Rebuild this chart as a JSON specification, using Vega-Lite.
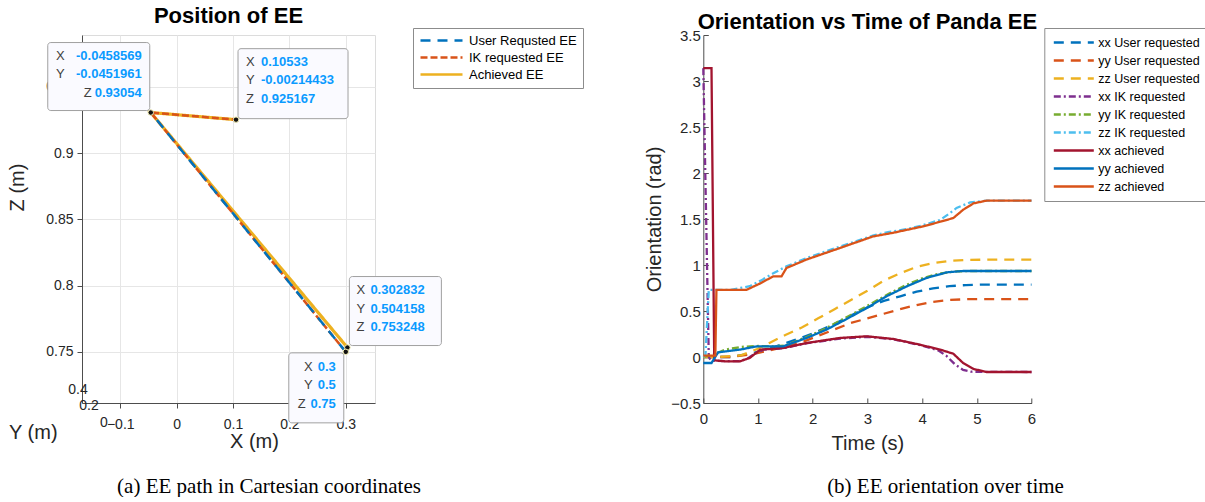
{
 "$schema": "https://vega.github.io/schema/vega-lite/v6.json",
 "padding": {"left": 7, "top": 4, "right": 0, "bottom": 0},
 "background": "white",
 "bounds": "flush",
 "spacing": 328.3,
 "resolve": {"scale": {"color": "independent", "strokeDash": "independent"}, "legend": {"color": "independent", "strokeDash": "independent"}},
 "config": {
  "font": "Liberation Sans",
  "view": {"stroke": null},
  "axis": {"labelFont": "Liberation Sans", "titleFont": "Liberation Sans", "labelColor": "#262626", "titleColor": "#262626", "titleFontWeight": "normal", "domainColor": "#4d4d4d", "tickColor": "#4d4d4d", "labelFlush": false, "labelOverlap": false},
  "legend": {"symbolType": "stroke", "labelFont": "Liberation Sans", "labelFontSize": 13, "labelColor": "#000000", "strokeColor": "#8c8c8c", "fillColor": "#ffffff", "labelLimit": 0},
  "title": {"font": "Liberation Sans", "fontSize": 22, "fontWeight": "bold", "color": "#000000", "anchor": "middle", "baseline": "alphabetic"}
 },
 "datasets": {
  "path": [
   {"s": "Achieved EE", "i": 0, "X": 0.302832, "Y": 0.504158, "Z": 0.753248},
   {"s": "Achieved EE", "i": 1, "X": -0.0458569, "Y": -0.0451961, "Z": 0.93054},
   {"s": "Achieved EE", "i": 2, "X": 0.10533, "Y": -0.00214433, "Z": 0.925167},
   {"s": "IK requested EE", "i": 0, "X": 0.3, "Y": 0.5, "Z": 0.75},
   {"s": "IK requested EE", "i": 1, "X": -0.0458569, "Y": -0.0451961, "Z": 0.93054},
   {"s": "IK requested EE", "i": 2, "X": 0.10533, "Y": -0.00214433, "Z": 0.925167},
   {"s": "User Requsted EE", "i": 0, "X": 0.3, "Y": 0.5, "Z": 0.75},
   {"s": "User Requsted EE", "i": 1, "X": -0.0458569, "Y": -0.0451961, "Z": 0.93054}
  ],
  "tips": [
   {"tip": "a", "X": -0.0458569, "Y": -0.0451961, "Z": 0.93054, "labs": "X\nY", "labz": "Z", "vals": "-0.0458569\n-0.0451961\n0.93054"},
   {"tip": "b", "X": 0.10533, "Y": -0.00214433, "Z": 0.925167, "labs": "X\nY\nZ", "labz": "", "vals": "0.10533\n-0.00214433\n0.925167"},
   {"tip": "c", "X": 0.302832, "Y": 0.504158, "Z": 0.753248, "labs": "X\nY\nZ", "labz": "", "vals": "0.302832\n0.504158\n0.753248"},
   {"tip": "d", "X": 0.3, "Y": 0.5, "Z": 0.75, "labs": "X\nY", "labz": "Z", "vals": "0.3\n0.5\n0.75"}
  ],
  "yticks": [
   {"lab": "0.4", "X": -0.1749, "Z": 0.72144},
   {"lab": "0.2", "X": -0.1554, "Z": 0.70937},
   {"lab": "0", "X": -0.1288, "Z": 0.69655}
  ],
  "ytitle": [
   {"lab": "Y (m)", "X": -0.2542, "Z": 0.689}
  ],
  "ori": [
   {"s": "xx User requested", "t": 0, "v": 0}, {"s": "xx User requested", "t": 0.5, "v": 0}, {"s": "xx User requested", "t": 0.9, "v": 0.04}, {"s": "xx User requested", "t": 1.2, "v": 0.09}, {"s": "xx User requested", "t": 1.5, "v": 0.15}, {"s": "xx User requested", "t": 1.8, "v": 0.21}, {"s": "xx User requested", "t": 2.1, "v": 0.28}, {"s": "xx User requested", "t": 2.4, "v": 0.36}, {"s": "xx User requested", "t": 2.7, "v": 0.45}, {"s": "xx User requested", "t": 3.0, "v": 0.54}, {"s": "xx User requested", "t": 3.3, "v": 0.61}, {"s": "xx User requested", "t": 3.6, "v": 0.66}, {"s": "xx User requested", "t": 3.9, "v": 0.71}, {"s": "xx User requested", "t": 4.2, "v": 0.745}, {"s": "xx User requested", "t": 4.5, "v": 0.77}, {"s": "xx User requested", "t": 4.8, "v": 0.782}, {"s": "xx User requested", "t": 5.1, "v": 0.787}, {"s": "xx User requested", "t": 6, "v": 0.787},
   {"s": "yy User requested", "t": 0, "v": 0}, {"s": "yy User requested", "t": 0.5, "v": 0}, {"s": "yy User requested", "t": 0.9, "v": 0.03}, {"s": "yy User requested", "t": 1.2, "v": 0.07}, {"s": "yy User requested", "t": 1.5, "v": 0.11}, {"s": "yy User requested", "t": 1.8, "v": 0.16}, {"s": "yy User requested", "t": 2.1, "v": 0.23}, {"s": "yy User requested", "t": 2.4, "v": 0.3}, {"s": "yy User requested", "t": 2.7, "v": 0.37}, {"s": "yy User requested", "t": 3.0, "v": 0.42}, {"s": "yy User requested", "t": 3.3, "v": 0.47}, {"s": "yy User requested", "t": 3.6, "v": 0.52}, {"s": "yy User requested", "t": 3.9, "v": 0.565}, {"s": "yy User requested", "t": 4.2, "v": 0.6}, {"s": "yy User requested", "t": 4.5, "v": 0.62}, {"s": "yy User requested", "t": 4.8, "v": 0.628}, {"s": "yy User requested", "t": 5.1, "v": 0.63}, {"s": "yy User requested", "t": 6, "v": 0.63},
   {"s": "zz User requested", "t": 0, "v": 0}, {"s": "zz User requested", "t": 0.3, "v": 0}, {"s": "zz User requested", "t": 0.7, "v": 0.02}, {"s": "zz User requested", "t": 1.0, "v": 0.09}, {"s": "zz User requested", "t": 1.2, "v": 0.15}, {"s": "zz User requested", "t": 1.5, "v": 0.24}, {"s": "zz User requested", "t": 1.8, "v": 0.32}, {"s": "zz User requested", "t": 2.1, "v": 0.42}, {"s": "zz User requested", "t": 2.4, "v": 0.52}, {"s": "zz User requested", "t": 2.7, "v": 0.62}, {"s": "zz User requested", "t": 3.0, "v": 0.72}, {"s": "zz User requested", "t": 3.3, "v": 0.83}, {"s": "zz User requested", "t": 3.6, "v": 0.91}, {"s": "zz User requested", "t": 3.9, "v": 0.98}, {"s": "zz User requested", "t": 4.2, "v": 1.02}, {"s": "zz User requested", "t": 4.5, "v": 1.045}, {"s": "zz User requested", "t": 4.8, "v": 1.055}, {"s": "zz User requested", "t": 5.2, "v": 1.058}, {"s": "zz User requested", "t": 6, "v": 1.058},
   {"s": "xx IK requested", "t": 0, "v": 3.14}, {"s": "xx IK requested", "t": 0.1, "v": 0}, {"s": "xx IK requested", "t": 0.14, "v": -0.04}, {"s": "xx IK requested", "t": 0.4, "v": -0.045}, {"s": "xx IK requested", "t": 0.65, "v": -0.045}, {"s": "xx IK requested", "t": 0.8, "v": -0.02}, {"s": "xx IK requested", "t": 0.95, "v": 0.04}, {"s": "xx IK requested", "t": 1.1, "v": 0.08}, {"s": "xx IK requested", "t": 1.45, "v": 0.095}, {"s": "xx IK requested", "t": 1.9, "v": 0.15}, {"s": "xx IK requested", "t": 2.5, "v": 0.2}, {"s": "xx IK requested", "t": 3.0, "v": 0.22}, {"s": "xx IK requested", "t": 3.5, "v": 0.19}, {"s": "xx IK requested", "t": 4.0, "v": 0.125}, {"s": "xx IK requested", "t": 4.3, "v": 0.07}, {"s": "xx IK requested", "t": 4.45, "v": 0.01}, {"s": "xx IK requested", "t": 4.6, "v": -0.08}, {"s": "xx IK requested", "t": 4.75, "v": -0.14}, {"s": "xx IK requested", "t": 4.9, "v": -0.16}, {"s": "xx IK requested", "t": 6, "v": -0.163},
   {"s": "yy IK requested", "t": 0, "v": 0}, {"s": "yy IK requested", "t": 0.2, "v": 0.03}, {"s": "yy IK requested", "t": 0.4, "v": 0.08}, {"s": "yy IK requested", "t": 0.7, "v": 0.11}, {"s": "yy IK requested", "t": 1.0, "v": 0.12}, {"s": "yy IK requested", "t": 1.3, "v": 0.115}, {"s": "yy IK requested", "t": 1.5, "v": 0.125}, {"s": "yy IK requested", "t": 1.9, "v": 0.22}, {"s": "yy IK requested", "t": 2.2, "v": 0.3}, {"s": "yy IK requested", "t": 2.5, "v": 0.395}, {"s": "yy IK requested", "t": 2.8, "v": 0.49}, {"s": "yy IK requested", "t": 3.1, "v": 0.59}, {"s": "yy IK requested", "t": 3.4, "v": 0.69}, {"s": "yy IK requested", "t": 3.7, "v": 0.78}, {"s": "yy IK requested", "t": 4.0, "v": 0.855}, {"s": "yy IK requested", "t": 4.3, "v": 0.905}, {"s": "yy IK requested", "t": 4.6, "v": 0.93}, {"s": "yy IK requested", "t": 4.9, "v": 0.935}, {"s": "yy IK requested", "t": 6, "v": 0.935},
   {"s": "zz IK requested", "t": 0, "v": 0}, {"s": "zz IK requested", "t": 0.04, "v": 0.02}, {"s": "zz IK requested", "t": 0.1, "v": 0.73}, {"s": "zz IK requested", "t": 0.5, "v": 0.73}, {"s": "zz IK requested", "t": 0.85, "v": 0.77}, {"s": "zz IK requested", "t": 1.05, "v": 0.83}, {"s": "zz IK requested", "t": 1.28, "v": 0.91}, {"s": "zz IK requested", "t": 1.52, "v": 0.985}, {"s": "zz IK requested", "t": 1.89, "v": 1.076}, {"s": "zz IK requested", "t": 2.2, "v": 1.14}, {"s": "zz IK requested", "t": 2.5, "v": 1.2}, {"s": "zz IK requested", "t": 2.8, "v": 1.26}, {"s": "zz IK requested", "t": 3.1, "v": 1.32}, {"s": "zz IK requested", "t": 3.4, "v": 1.36}, {"s": "zz IK requested", "t": 3.72, "v": 1.39}, {"s": "zz IK requested", "t": 4.0, "v": 1.43}, {"s": "zz IK requested", "t": 4.33, "v": 1.49}, {"s": "zz IK requested", "t": 4.5, "v": 1.56}, {"s": "zz IK requested", "t": 4.63, "v": 1.62}, {"s": "zz IK requested", "t": 4.88, "v": 1.68}, {"s": "zz IK requested", "t": 5.18, "v": 1.7}, {"s": "zz IK requested", "t": 6, "v": 1.7},
   {"s": "xx achieved", "t": 0, "v": 3.14}, {"s": "xx achieved", "t": 0.15, "v": 3.14}, {"s": "xx achieved", "t": 0.2, "v": -0.036}, {"s": "xx achieved", "t": 0.4, "v": -0.047}, {"s": "xx achieved", "t": 0.67, "v": -0.047}, {"s": "xx achieved", "t": 0.85, "v": -0.01}, {"s": "xx achieved", "t": 1.04, "v": 0.08}, {"s": "xx achieved", "t": 1.46, "v": 0.098}, {"s": "xx achieved", "t": 1.89, "v": 0.152}, {"s": "xx achieved", "t": 2.2, "v": 0.18}, {"s": "xx achieved", "t": 2.5, "v": 0.207}, {"s": "xx achieved", "t": 2.99, "v": 0.225}, {"s": "xx achieved", "t": 3.47, "v": 0.196}, {"s": "xx achieved", "t": 3.96, "v": 0.134}, {"s": "xx achieved", "t": 4.33, "v": 0.08}, {"s": "xx achieved", "t": 4.57, "v": 0.036}, {"s": "xx achieved", "t": 4.75, "v": -0.065}, {"s": "xx achieved", "t": 4.94, "v": -0.13}, {"s": "xx achieved", "t": 5.18, "v": -0.163}, {"s": "xx achieved", "t": 6, "v": -0.163},
   {"s": "yy achieved", "t": 0, "v": -0.065}, {"s": "yy achieved", "t": 0.15, "v": -0.065}, {"s": "yy achieved", "t": 0.27, "v": 0.05}, {"s": "yy achieved", "t": 0.67, "v": 0.08}, {"s": "yy achieved", "t": 0.98, "v": 0.116}, {"s": "yy achieved", "t": 1.46, "v": 0.116}, {"s": "yy achieved", "t": 1.89, "v": 0.207}, {"s": "yy achieved", "t": 2.25, "v": 0.297}, {"s": "yy achieved", "t": 2.62, "v": 0.413}, {"s": "yy achieved", "t": 2.99, "v": 0.533}, {"s": "yy achieved", "t": 3.35, "v": 0.66}, {"s": "yy achieved", "t": 3.72, "v": 0.768}, {"s": "yy achieved", "t": 4.08, "v": 0.859}, {"s": "yy achieved", "t": 4.45, "v": 0.92}, {"s": "yy achieved", "t": 4.75, "v": 0.935}, {"s": "yy achieved", "t": 6, "v": 0.935},
   {"s": "zz achieved", "t": 0, "v": 0.015}, {"s": "zz achieved", "t": 0.22, "v": 0.015}, {"s": "zz achieved", "t": 0.24, "v": 0.73}, {"s": "zz achieved", "t": 0.79, "v": 0.73}, {"s": "zz achieved", "t": 1.04, "v": 0.8}, {"s": "zz achieved", "t": 1.28, "v": 0.877}, {"s": "zz achieved", "t": 1.43, "v": 0.877}, {"s": "zz achieved", "t": 1.52, "v": 0.967}, {"s": "zz achieved", "t": 1.89, "v": 1.06}, {"s": "zz achieved", "t": 2.5, "v": 1.185}, {"s": "zz achieved", "t": 3.1, "v": 1.31}, {"s": "zz achieved", "t": 3.47, "v": 1.35}, {"s": "zz achieved", "t": 4.02, "v": 1.42}, {"s": "zz achieved", "t": 4.33, "v": 1.47}, {"s": "zz achieved", "t": 4.57, "v": 1.51}, {"s": "zz achieved", "t": 4.75, "v": 1.6}, {"s": "zz achieved", "t": 4.94, "v": 1.67}, {"s": "zz achieved", "t": 5.18, "v": 1.7}, {"s": "zz achieved", "t": 6, "v": 1.7}
  ]
 },
 "hconcat": [
  {
   "width": 293,
   "height": 368,
   "view": {"stroke": "#dcdcdc"},
   "title": {"text": "Position of EE", "offset": -0.7},
   "resolve": {"axis": {"x": "independent"}},
   "layer": [
    {
     "layer": [
      {
       "data": {"name": "path"},
       "transform": [{"filter": "datum.s === 'Achieved EE'"}],
       "mark": {"type": "line", "strokeWidth": 3.2},
       "encoding": {
        "x": {"field": "X", "type": "quantitative", "scale": {"domain": [-0.1678, 0.3518], "nice": false, "zero": false}, "axis": {"values": [-0.1, 0, 0.1, 0.2, 0.3], "format": "~g", "title": "X (m)", "titleFontSize": 20, "titleX": 172, "titlePadding": 0, "labelFontSize": 14, "tickSize": 5, "labelPadding": 9, "grid": true, "gridColor": "#e6e6e6"}},
        "y": {"field": "Z", "type": "quantitative", "scale": {"domain": [0.71141, 0.98904], "nice": false, "zero": false}, "axis": {"values": [0.75, 0.8, 0.85, 0.9, 0.95], "format": "~g", "title": "Z (m)", "titleFontSize": 20, "titleY": 152, "titlePadding": 18, "labelFontSize": 14, "tickSize": 5, "labelPadding": 4, "grid": true, "gridColor": "#e6e6e6"}},
        "color": {"field": "s", "type": "nominal", "scale": {"domain": ["User Requsted EE", "IK requested EE", "Achieved EE"], "range": ["#0072BD", "#D95319", "#EDB120"]}, "legend": {"orient": "none", "legendX": 331, "legendY": -7, "title": null, "symbolSize": 1764, "symbolStrokeWidth": 2.5, "padding": 6, "rowPadding": 3, "labelOffset": 5, "clipHeight": 13}},
        "strokeDash": {"field": "s", "type": "nominal", "scale": {"domain": ["User Requsted EE", "IK requested EE", "Achieved EE"], "range": [[10, 7], [7, 3], [1, 0]]}, "legend": {"orient": "none", "legendX": 331, "legendY": -7, "title": null, "symbolSize": 1764, "symbolStrokeWidth": 2.5, "padding": 6, "rowPadding": 3, "labelOffset": 5, "clipHeight": 13}},
        "order": {"field": "i", "type": "quantitative"}
       }
      },
      {
       "data": {"name": "path"},
       "transform": [{"filter": "datum.s === 'IK requested EE'"}],
       "mark": {"type": "line", "strokeWidth": 2.5},
       "encoding": {
        "x": {"field": "X", "type": "quantitative"},
        "y": {"field": "Z", "type": "quantitative"},
        "color": {"field": "s", "type": "nominal"},
        "strokeDash": {"field": "s", "type": "nominal"},
        "order": {"field": "i", "type": "quantitative"}
       }
      },
      {
       "data": {"name": "path"},
       "transform": [{"filter": "datum.s === 'User Requsted EE'"}],
       "mark": {"type": "line", "strokeWidth": 2.5},
       "encoding": {
        "x": {"field": "X", "type": "quantitative"},
        "y": {"field": "Z", "type": "quantitative"},
        "color": {"field": "s", "type": "nominal"},
        "strokeDash": {"field": "s", "type": "nominal"},
        "order": {"field": "i", "type": "quantitative"}
       }
      },
      {
       "data": {"name": "tips"},
       "mark": {"type": "point", "filled": true, "size": 30, "fill": "#111111", "stroke": "#f3efb5", "strokeWidth": 1, "opacity": 1},
       "encoding": {"x": {"field": "X", "type": "quantitative"}, "y": {"field": "Z", "type": "quantitative"}}
      },
      {
       "data": {"name": "tips"},
       "transform": [{"filter": "datum.tip === 'a'"}],
       "mark": {"type": "rect", "xOffset": -103, "x2Offset": -1, "yOffset": -70, "y2Offset": -2, "fill": "#fafaff", "stroke": "#a0a0a0", "strokeWidth": 1, "cornerRadius": 3},
       "encoding": {"x": {"field": "X", "type": "quantitative"}, "x2": {"field": "X"}, "y": {"field": "Z", "type": "quantitative"}, "y2": {"field": "Z"}}
      },
      {
       "data": {"name": "tips"},
       "transform": [{"filter": "datum.tip === 'a'"}],
       "mark": {"type": "text", "align": "right", "baseline": "middle", "dx": -86, "dy": -57, "fontSize": 13, "lineHeight": 18.5, "lineBreak": "\n", "color": "#404040"},
       "encoding": {"x": {"field": "X", "type": "quantitative"}, "y": {"field": "Z", "type": "quantitative"}, "text": {"field": "labs", "type": "nominal"}}
      },
      {
       "data": {"name": "tips"},
       "transform": [{"filter": "datum.tip === 'a'"}],
       "mark": {"type": "text", "align": "right", "baseline": "middle", "dx": -59, "dy": -20, "fontSize": 13, "color": "#404040"},
       "encoding": {"x": {"field": "X", "type": "quantitative"}, "y": {"field": "Z", "type": "quantitative"}, "text": {"field": "labz", "type": "nominal"}}
      },
      {
       "data": {"name": "tips"},
       "transform": [{"filter": "datum.tip === 'a'"}],
       "mark": {"type": "text", "align": "right", "baseline": "middle", "dx": -9, "dy": -57, "fontSize": 13, "fontWeight": "bold", "lineHeight": 18.5, "lineBreak": "\n", "color": "#0a9aff"},
       "encoding": {"x": {"field": "X", "type": "quantitative"}, "y": {"field": "Z", "type": "quantitative"}, "text": {"field": "vals", "type": "nominal"}}
      },
      {
       "data": {"name": "tips"},
       "transform": [{"filter": "datum.tip === 'b'"}],
       "mark": {"type": "rect", "xOffset": 2, "x2Offset": 112, "yOffset": -71, "y2Offset": -1, "fill": "#fafaff", "stroke": "#a0a0a0", "strokeWidth": 1, "cornerRadius": 3},
       "encoding": {"x": {"field": "X", "type": "quantitative"}, "x2": {"field": "X"}, "y": {"field": "Z", "type": "quantitative"}, "y2": {"field": "Z"}}
      },
      {
       "data": {"name": "tips"},
       "transform": [{"filter": "datum.tip === 'b'"}],
       "mark": {"type": "text", "align": "left", "baseline": "middle", "dx": 10, "dy": -58, "fontSize": 13, "lineHeight": 18.5, "lineBreak": "\n", "color": "#404040"},
       "encoding": {"x": {"field": "X", "type": "quantitative"}, "y": {"field": "Z", "type": "quantitative"}, "text": {"field": "labs", "type": "nominal"}}
      },
      {
       "data": {"name": "tips"},
       "transform": [{"filter": "datum.tip === 'b'"}],
       "mark": {"type": "text", "align": "left", "baseline": "middle", "dx": 25, "dy": -58, "fontSize": 13, "fontWeight": "bold", "lineHeight": 18.5, "lineBreak": "\n", "color": "#0a9aff"},
       "encoding": {"x": {"field": "X", "type": "quantitative"}, "y": {"field": "Z", "type": "quantitative"}, "text": {"field": "vals", "type": "nominal"}}
      },
      {
       "data": {"name": "tips"},
       "transform": [{"filter": "datum.tip === 'c'"}],
       "mark": {"type": "rect", "xOffset": 2, "x2Offset": 94, "yOffset": -71, "y2Offset": -2, "fill": "#fafaff", "stroke": "#a0a0a0", "strokeWidth": 1, "cornerRadius": 3},
       "encoding": {"x": {"field": "X", "type": "quantitative"}, "x2": {"field": "X"}, "y": {"field": "Z", "type": "quantitative"}, "y2": {"field": "Z"}}
      },
      {
       "data": {"name": "tips"},
       "transform": [{"filter": "datum.tip === 'c'"}],
       "mark": {"type": "text", "align": "left", "baseline": "middle", "dx": 9, "dy": -57.5, "fontSize": 13, "lineHeight": 18.5, "lineBreak": "\n", "color": "#404040"},
       "encoding": {"x": {"field": "X", "type": "quantitative"}, "y": {"field": "Z", "type": "quantitative"}, "text": {"field": "labs", "type": "nominal"}}
      },
      {
       "data": {"name": "tips"},
       "transform": [{"filter": "datum.tip === 'c'"}],
       "mark": {"type": "text", "align": "left", "baseline": "middle", "dx": 23, "dy": -57.5, "fontSize": 13, "fontWeight": "bold", "lineHeight": 18.5, "lineBreak": "\n", "color": "#0a9aff"},
       "encoding": {"x": {"field": "X", "type": "quantitative"}, "y": {"field": "Z", "type": "quantitative"}, "text": {"field": "vals", "type": "nominal"}}
      },
      {
       "data": {"name": "tips"},
       "transform": [{"filter": "datum.tip === 'd'"}],
       "mark": {"type": "rect", "xOffset": -57, "x2Offset": -2, "yOffset": 1, "y2Offset": 71, "fill": "#fafaff", "stroke": "#a0a0a0", "strokeWidth": 1, "cornerRadius": 3},
       "encoding": {"x": {"field": "X", "type": "quantitative"}, "x2": {"field": "X"}, "y": {"field": "Z", "type": "quantitative"}, "y2": {"field": "Z"}}
      },
      {
       "data": {"name": "tips"},
       "transform": [{"filter": "datum.tip === 'd'"}],
       "mark": {"type": "text", "align": "right", "baseline": "middle", "dx": -33, "dy": 15, "fontSize": 13, "lineHeight": 18.5, "lineBreak": "\n", "color": "#404040"},
       "encoding": {"x": {"field": "X", "type": "quantitative"}, "y": {"field": "Z", "type": "quantitative"}, "text": {"field": "labs", "type": "nominal"}}
      },
      {
       "data": {"name": "tips"},
       "transform": [{"filter": "datum.tip === 'd'"}],
       "mark": {"type": "text", "align": "right", "baseline": "middle", "dx": -40, "dy": 52, "fontSize": 13, "color": "#404040"},
       "encoding": {"x": {"field": "X", "type": "quantitative"}, "y": {"field": "Z", "type": "quantitative"}, "text": {"field": "labz", "type": "nominal"}}
      },
      {
       "data": {"name": "tips"},
       "transform": [{"filter": "datum.tip === 'd'"}],
       "mark": {"type": "text", "align": "right", "baseline": "middle", "dx": -10, "dy": 15, "fontSize": 13, "fontWeight": "bold", "lineHeight": 18.5, "lineBreak": "\n", "color": "#0a9aff"},
       "encoding": {"x": {"field": "X", "type": "quantitative"}, "y": {"field": "Z", "type": "quantitative"}, "text": {"field": "vals", "type": "nominal"}}
      },
      {
       "data": {"name": "yticks"},
       "mark": {"type": "text", "fontSize": 14, "color": "#262626"},
       "encoding": {"x": {"field": "X", "type": "quantitative"}, "y": {"field": "Z", "type": "quantitative"}, "text": {"field": "lab", "type": "nominal"}}
      },
      {
       "data": {"name": "ytitle"},
       "mark": {"type": "text", "fontSize": 20, "color": "#262626"},
       "encoding": {"x": {"field": "X", "type": "quantitative"}, "y": {"field": "Z", "type": "quantitative"}, "text": {"field": "lab", "type": "nominal"}}
      }
     ]
    },
    {
     "data": {"name": "ytitle"},
     "mark": {"type": "text", "opacity": 0},
     "encoding": {
      "x": {"field": "X", "type": "quantitative", "axis": {"orient": "bottom", "offset": 71, "title": "(a) EE path in Cartesian coordinates", "titleFont": "Liberation Serif", "titleFontSize": 21, "titleColor": "#000000", "titleFontWeight": "normal", "titleX": 186.5, "titlePadding": 1, "labels": false, "ticks": false, "domain": false, "grid": false}},
      "text": {"field": "lab", "type": "nominal"}
     }
    }
   ]
  },
  {
   "width": 328.2,
   "height": 368,
   "title": {"text": "Orientation vs Time of Panda EE", "offset": -6.7},
   "resolve": {"axis": {"x": "independent"}},
   "layer": [
    {
     "data": {"name": "ori"},
     "mark": {"type": "line", "strokeWidth": 2.3},
     "encoding": {
      "x": {"field": "t", "type": "quantitative", "scale": {"domain": [0, 6], "nice": false}, "axis": {"values": [0, 1, 2, 3, 4, 5, 6], "format": "~g", "title": "Time (s)", "titleFontSize": 20, "titlePadding": 7, "labelFontSize": 15, "tickSize": -5, "labelPadding": 13, "grid": false}},
      "y": {"field": "v", "type": "quantitative", "scale": {"domain": [-0.5, 3.5], "nice": false, "zero": false}, "axis": {"values": [-0.5, 0, 0.5, 1, 1.5, 2, 2.5, 3, 3.5], "format": "~g", "title": "Orientation (rad)", "titleFontSize": 20, "titlePadding": 6, "labelFontSize": 15, "tickSize": -5, "labelPadding": 8, "grid": false}},
      "color": {"field": "s", "type": "nominal", "scale": {"domain": ["xx User requested", "yy User requested", "zz User requested", "xx IK requested", "yy IK requested", "zz IK requested", "xx achieved", "yy achieved", "zz achieved"], "range": ["#0072BD", "#D95319", "#EDB120", "#7E2F8E", "#77AC30", "#4DBEEE", "#A2142F", "#0072BD", "#D95319"]}, "legend": {"orient": "none", "legendX": 341, "legendY": -7, "title": null, "symbolSize": 1600, "symbolStrokeWidth": 2.3, "padding": 8, "rowPadding": 5, "labelOffset": 3, "labelFontSize": 12.5, "clipHeight": 13}},
      "strokeDash": {"field": "s", "type": "nominal", "scale": {"domain": ["xx User requested", "yy User requested", "zz User requested", "xx IK requested", "yy IK requested", "zz IK requested", "xx achieved", "yy achieved", "zz achieved"], "range": [[10, 7], [10, 7], [10, 7], [7, 3, 2, 3], [7, 3, 2, 3], [7, 3, 2, 3], [1, 0], [1, 0], [1, 0]]}, "legend": {"orient": "none", "legendX": 341, "legendY": -7, "title": null, "symbolSize": 1600, "symbolStrokeWidth": 2.3, "padding": 8, "rowPadding": 5, "labelOffset": 3, "labelFontSize": 12.5, "clipHeight": 13}}
     }
    },
    {
     "data": {"values": [{"t": 3, "note": "caption"}]},
     "mark": {"type": "text", "opacity": 0},
     "encoding": {
      "x": {"field": "t", "type": "quantitative", "axis": {"orient": "bottom", "offset": 71, "title": "(b) EE orientation over time", "titleFont": "Liberation Serif", "titleFontSize": 21, "titleColor": "#000000", "titleFontWeight": "normal", "titleX": 241.7, "titlePadding": 1, "labels": false, "ticks": false, "domain": false, "grid": false}},
      "text": {"field": "note", "type": "nominal"}
     }
    }
   ]
  }
 ]
}
